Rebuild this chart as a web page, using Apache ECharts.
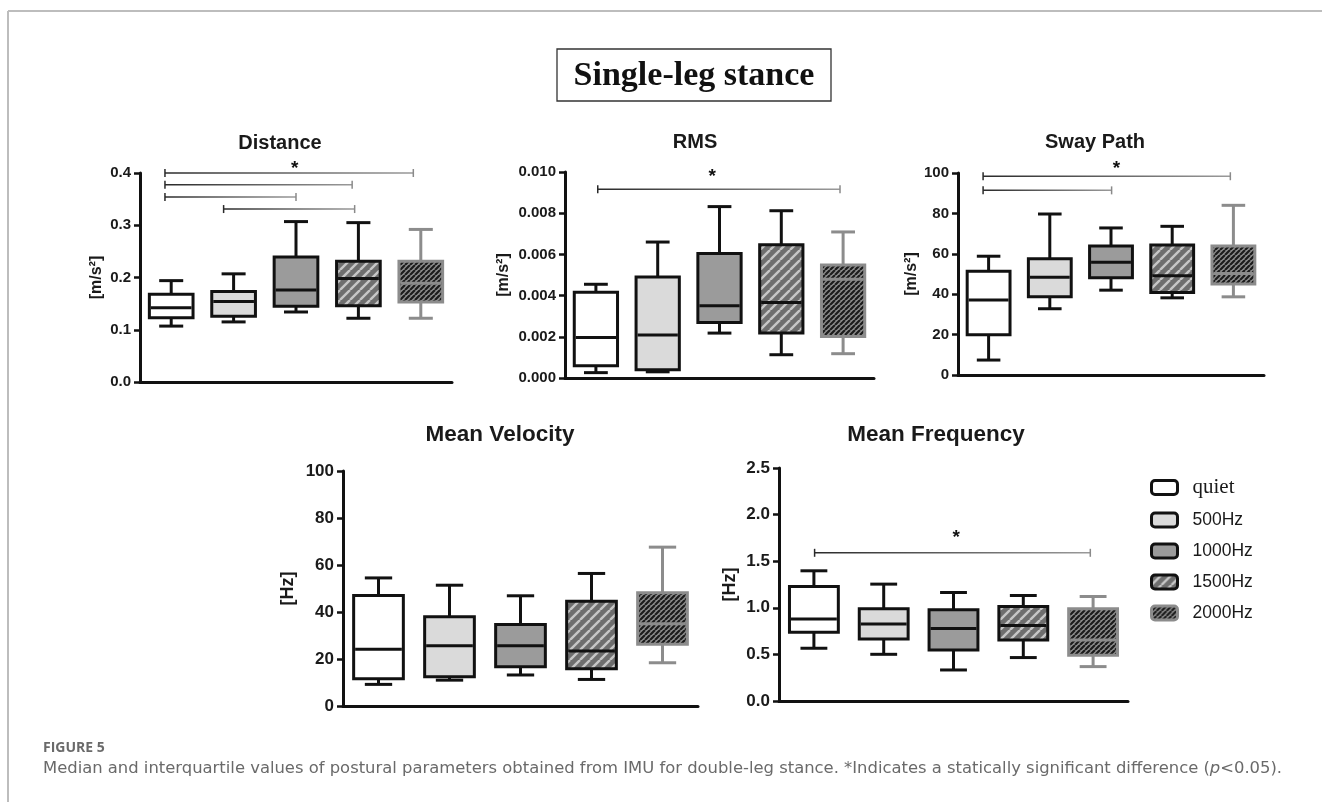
<!DOCTYPE html>
<html>
<head>
<meta charset="utf-8">
<script src="https://cdn.jsdelivr.net/npm/echarts@6/dist/echarts.min.js"></script>
<style>
html,body{margin:0;padding:0;background:#fff;}
#chart{width:1322px;height:802px;}
</style>
</head>
<body>
<div id="chart"></div>
<script>
// ---------- data ----------
const conditions = ['quiet', '500Hz', '1000Hz', '1500Hz', '2000Hz'];

// five-number summaries per condition: [min, Q1, median, Q3, max]
const distanceStats = [
  [0.107, 0.123, 0.142, 0.168, 0.194],
  [0.115, 0.126, 0.154, 0.173, 0.207],
  [0.134, 0.145, 0.176, 0.239, 0.307],
  [0.122, 0.146, 0.198, 0.231, 0.305],
  [0.122, 0.153, 0.189, 0.231, 0.292]
];
const rmsStats = [
  [0.00026, 0.0006, 0.00197, 0.00416, 0.00455],
  [0.0003, 0.0004, 0.00209, 0.0049, 0.0066],
  [0.00218, 0.0027, 0.00351, 0.00604, 0.00832],
  [0.00113, 0.00218, 0.00367, 0.00647, 0.00812],
  [0.00118, 0.00201, 0.00479, 0.00549, 0.00709]
];
const swayStats = [
  [7.4, 19.9, 37.1, 51.4, 58.8],
  [32.8, 38.7, 48.4, 57.5, 79.7],
  [42, 48.1, 55.8, 63.8, 72.8],
  [38.2, 40.9, 49.1, 64.3, 73.6],
  [38.7, 45, 50.2, 63.8, 84]
];
const velocityStats = [
  [9.2, 11.6, 24.1, 47, 54.5],
  [11, 12.5, 25.6, 38, 51.4],
  [13.2, 16.7, 25.6, 34.7, 46.9],
  [11.3, 15.9, 23.4, 44.6, 56.4],
  [18.4, 26.3, 35, 48.2, 67.6]
];
const frequencyStats = [
  [0.566, 0.738, 0.881, 1.228, 1.397],
  [0.501, 0.666, 0.827, 0.989, 1.254],
  [0.333, 0.548, 0.777, 0.978, 1.164],
  [0.466, 0.655, 0.809, 1.014, 1.132],
  [0.369, 0.491, 0.655, 0.989, 1.121]
];

// significance brackets: [from (category index), to (category index), level]
const distanceSig = [[-0.1, 3.88, 0.400], [-0.1, 2.9, 0.3776], [-0.1, 2.0, 0.354], [0.84, 2.94, 0.331]];
const rmsSig = [[0.03, 3.95, 0.00916]];
const swaySig = [[-0.09, 3.95, 98.4], [-0.09, 2.01, 91.4]];
const velocitySig = [];
const frequencySig = [[0.01, 3.96, 1.59]];

// star markers: [category index, level]
const distanceStar = [[1.98, 0.416]];
const rmsStar = [[1.88, 0.00994]];
const swayStar = [[2.09, 104.3]];
const velocityStar = [];
const frequencyStar = [[2.04, 1.794]];

// tick labels
const distanceTicks = ['0.0', '0.1', '0.2', '0.3', '0.4'];
const rmsTicks = ['0.000', '0.002', '0.004', '0.006', '0.008', '0.010'];
const swayTicks = ['0', '20', '40', '60', '80', '100'];
const velocityTicks = ['0', '20', '40', '60', '80', '100'];
const frequencyTicks = ['0.0', '0.5', '1.0', '1.5', '2.0', '2.5'];

// ---------- styles ----------
function hatch(size, bg, fg, lw) {
  const c = document.createElement('canvas');
  c.width = c.height = size;
  const g = c.getContext('2d');
  g.fillStyle = bg; g.fillRect(0, 0, size, size);
  g.strokeStyle = fg; g.lineWidth = lw;
  g.beginPath();
  [-size, 0, size].forEach(o => { g.moveTo(o, size); g.lineTo(o + size, 0); });
  g.stroke();
  return { image: c, repeat: 'repeat' };
}
const fills = ['#ffffff', '#dadada', '#9b9b9b', hatch(10, '#6e6e6e', '#c6c6c6', 2.4), hatch(5, '#8c8c8c', '#1c1c1c', 2.2)];
const strokes = ['#111111', '#111111', '#111111', '#111111', '#8c8c8c'];

const panels = [
  { title: 'Distance', tx: 280, ty: 143, tsize: 20, stats: distanceStats, max: 0.4, interval: 0.1, ticks: distanceTicks,
    unit: '[m/s²]', nameGap: 35, sig: distanceSig, star: distanceStar, grid: { left: 140, top: 173, width: 312, height: 209 }, fs: 15, ns: 16 },
  { title: 'RMS', tx: 695, ty: 142, tsize: 20, stats: rmsStats, max: 0.01, interval: 0.002, ticks: rmsTicks,
    unit: '[m/s²]', nameGap: 53, sig: rmsSig, star: rmsStar, grid: { left: 565, top: 172, width: 309, height: 206 }, fs: 15, ns: 16 },
  { title: 'Sway Path', tx: 1095, ty: 142, tsize: 20, stats: swayStats, max: 100, interval: 20, ticks: swayTicks,
    unit: '[m/s²]', nameGap: 34, sig: swaySig, star: swayStar, grid: { left: 958, top: 173, width: 306, height: 202 }, fs: 15, ns: 16 },
  { title: 'Mean Velocity', tx: 500, ty: 435, tsize: 22.5, stats: velocityStats, max: 100, interval: 20, ticks: velocityTicks,
    unit: '[Hz]', nameGap: 46, sig: velocitySig, star: velocityStar, grid: { left: 343, top: 471, width: 355, height: 235 }, fs: 17, ns: 18 },
  { title: 'Mean Frequency', tx: 936, ty: 435, tsize: 22.5, stats: frequencyStats, max: 2.5, interval: 0.5, ticks: frequencyTicks,
    unit: '[Hz]', nameGap: 40, sig: frequencySig, star: frequencyStar, grid: { left: 779, top: 468, width: 349, height: 233 }, fs: 17, ns: 18 }
];

const SANS = 'Liberation Sans, Arial, sans-serif';
const grids = [], xAxes = [], yAxes = [], series = [], graphics = [];

function boxRenderer(ci) {
  return function (params, api) {
    const x = api.value(0);
    const lo = api.coord([x, api.value(1)]);
    const q1 = api.coord([x, api.value(2)]);
    const md = api.coord([x, api.value(3)]);
    const q3 = api.coord([x, api.value(4)]);
    const hi = api.coord([x, api.value(5)]);
    const band = api.size([1, 0])[0];
    const bw = band * 0.7, cw = bw * 0.55, cx = lo[0];
    const st = strokes[ci], lw = 3;
    const line = (x1, y1, x2, y2) => ({ type: 'line', shape: { x1, y1, x2, y2 }, style: { stroke: st, lineWidth: lw } });
    return { type: 'group', children: [
      line(cx, q3[1], cx, hi[1]),
      line(cx, q1[1], cx, lo[1]),
      line(cx - cw / 2, hi[1], cx + cw / 2, hi[1]),
      line(cx - cw / 2, lo[1], cx + cw / 2, lo[1]),
      { type: 'rect', shape: { x: cx - bw / 2, y: q3[1], width: bw, height: q1[1] - q3[1] },
        style: { fill: fills[ci], stroke: st, lineWidth: lw } },
      line(cx - bw / 2 + 1.5, md[1], cx + bw / 2 - 1.5, md[1])
    ] };
  };
}

function sigRenderer(params, api) {
  const y = api.value(2);
  const a = api.coord([api.value(0), y]);
  const b = api.coord([api.value(1), y]);
  const h = 4;
  const grad = new echarts.graphic.LinearGradient(0, 0, 1, 0, [
    { offset: 0, color: '#2a2a2a' }, { offset: 1, color: '#9a9a9a' }
  ]);
  return { type: 'group', children: [
    { type: 'rect', shape: { x: a[0], y: a[1] - 0.75, width: b[0] - a[0], height: 1.5 }, style: { fill: grad } },
    { type: 'line', shape: { x1: a[0], y1: a[1] - h, x2: a[0], y2: a[1] + h }, style: { stroke: '#2a2a2a', lineWidth: 1.5 } },
    { type: 'line', shape: { x1: b[0], y1: b[1] - h, x2: b[0], y2: b[1] + h }, style: { stroke: '#8a8a8a', lineWidth: 1.5 } }
  ] };
}

function starRenderer(params, api) {
  const p = api.coord([api.value(0), api.value(1)]);
  return { type: 'text', x: p[0], y: p[1] + 4,
    style: { text: '*', fontSize: 19, fontWeight: 'bold', fontFamily: SANS, fill: '#111', align: 'center', verticalAlign: 'middle' } };
}

panels.forEach((p, pi) => {
  grids.push(Object.assign({ containLabel: false }, p.grid));
  xAxes.push({
    type: 'category', gridIndex: pi, data: conditions, boundaryGap: true,
    axisLine: { onZero: false, lineStyle: { color: '#111', width: 3 } },
    axisTick: { alignWithLabel: true, length: 7, lineStyle: { color: '#111', width: 2.5 } },
    axisLabel: { show: false }, splitLine: { show: false }
  });
  xAxes.push({ type: 'value', gridIndex: pi, min: -0.5, max: 4.5, show: false,
    axisLine: { onZero: false } });
  yAxes.push({
    type: 'value', gridIndex: pi, min: 0, max: p.max, interval: p.interval, position: 'left',
    name: p.unit, nameLocation: 'middle', nameGap: p.nameGap,
    nameTextStyle: { fontFamily: SANS, fontWeight: 'bold', fontSize: p.ns, color: '#1a1a1a' },
    axisLine: { show: true, onZero: false, lineStyle: { color: '#111', width: 3 } },
    axisTick: { show: true, length: 6, lineStyle: { color: '#111', width: 2.5 } },
    axisLabel: { margin: 9, fontFamily: SANS, fontWeight: 'bold', fontSize: p.fs, color: '#1a1a1a',
      formatter: (v) => p.ticks[Math.round(v / p.interval)] },
    splitLine: { show: false }
  });
  conditions.forEach((c, ci) => {
    series.push({
      type: 'custom', name: c, xAxisIndex: pi * 2, yAxisIndex: pi,
      renderItem: boxRenderer(ci), encode: { x: 0, y: [1, 2, 3, 4, 5] },
      itemStyle: { color: fills[ci], borderColor: strokes[ci] },
      data: [[c].concat(p.stats[ci])], silent: true
    });
  });
  if (p.sig.length) {
    series.push({ type: 'custom', name: 'sig' + pi, xAxisIndex: pi * 2 + 1, yAxisIndex: pi,
      renderItem: sigRenderer, encode: { x: [0, 1], y: 2 }, data: p.sig, silent: true });
  }
  if (p.star.length) {
    series.push({ type: 'custom', name: 'star' + pi, xAxisIndex: pi * 2 + 1, yAxisIndex: pi,
      renderItem: starRenderer, encode: { x: 0, y: 1 }, data: p.star, silent: true });
  }
  graphics.push({ type: 'text', x: p.tx, y: p.ty,
    style: { text: p.title, fontFamily: SANS, fontWeight: 'bold', fontSize: p.tsize, fill: '#1a1a1a', align: 'center', verticalAlign: 'middle' } });
});

// frame, figure title and caption
graphics.push({ type: 'line', shape: { x1: 8, y1: 11, x2: 1322, y2: 11 }, style: { stroke: '#bdbdbd', lineWidth: 2 } });
graphics.push({ type: 'line', shape: { x1: 8, y1: 11, x2: 8, y2: 802 }, style: { stroke: '#bdbdbd', lineWidth: 2 } });
graphics.push({ type: 'rect', shape: { x: 557, y: 49, width: 274, height: 52 }, style: { fill: '#fff', stroke: '#333', lineWidth: 1.3 } });
graphics.push({ type: 'text', x: 694, y: 76,
  style: { text: 'Single-leg stance', fontFamily: 'Liberation Serif, Times New Roman, serif', fontWeight: 'bold', fontSize: 34, fill: '#111', align: 'center', verticalAlign: 'middle' } });
graphics.push({ type: 'text', x: 43, y: 748,
  style: { text: 'FIGURE 5', fontFamily: 'Open Sans, sans-serif', fontWeight: 'bold', fontSize: 14, fill: '#6a6a6a', align: 'left', verticalAlign: 'middle' } });
graphics.push({ type: 'text', x: 43, y: 769,
  style: { text: 'Median and interquartile values of postural parameters obtained from IMU for double-leg stance. *Indicates a statically significant difference ({i|p}<0.05).',
    fontFamily: 'DejaVu Sans, sans-serif', fontSize: 16.4, fill: '#6a6a6a', align: 'left', verticalAlign: 'middle',
    rich: { i: { fontFamily: 'DejaVu Sans, sans-serif', fontSize: 16.4, fontStyle: 'italic', fill: '#6a6a6a' } } } });

const chart = echarts.init(document.getElementById('chart'), null, { renderer: 'canvas' });
chart.setOption({
  animation: false,
  backgroundColor: '#ffffff',
  grid: grids, xAxis: xAxes, yAxis: yAxes, series: series,
  legend: {
    orient: 'vertical', left: 1150, top: 477, padding: 0, itemWidth: 26, itemHeight: 14, itemGap: 13, selectedMode: false,
    data: conditions.map((n, i) => ({
      name: n, icon: 'roundRect',
      itemStyle: { color: fills[i], borderColor: strokes[i], borderWidth: 3 },
      textStyle: i === 0
        ? { fontFamily: 'Liberation Serif, serif', fontSize: 21, color: '#1a1a1a', padding: [0, 0, 0, 10] }
        : { fontFamily: SANS, fontSize: 17.5, color: '#1a1a1a', padding: [0, 0, 0, 10] }
    }))
  },
  graphic: graphics
});
</script>
</body>
</html>
